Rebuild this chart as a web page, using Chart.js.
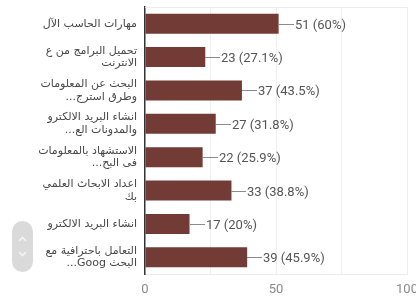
<!DOCTYPE html>
<html>
<head>
<meta charset="utf-8">
<script src="https://cdn.jsdelivr.net/npm/chart.js@4/dist/chart.umd.min.js"></script>
<style>
  html, body { margin: 0; padding: 0; background: #fff; overflow: hidden; }
  #wrap { position: relative; width: 416px; height: 300px; }
  #scroller {
    position: absolute; left: 12px; top: 221px; width: 21px; height: 51px;
    background: #dadada; border-radius: 11px;
  }
</style>
</head>
<body>
<div id="wrap">
  <canvas id="chart" width="416" height="300"></canvas>
  <div id="scroller">
    <svg width="21" height="51" viewBox="0 0 21 51">
      <polyline points="7,20 10.5,16.5 14,20" fill="none" stroke="#f4f4f4" stroke-width="1.6"/>
      <polyline points="7,31 10.5,34.5 14,31" fill="none" stroke="#f4f4f4" stroke-width="1.6"/>
    </svg>
  </div>
</div>
<script>
// البيانات
const categories = [
    'مهارات الحاسب الآل',
    ['تحميل البرامج من ع', 'الانترنت'],
    ['البحث عن المعلومات', '...وطرق استرج'],
    ['انشاء البريد الالكترو', '...والمدونات الع'],
    ['الاستشهاد بالمعلومات', '...فى البح'],
    ['اعداد الابحاث العلمي', 'بك'],
    'انشاء البريد الالكترو',
    ['التعامل باحترافية مع', '...Goog البحث']
];
const counts = [51, 23, 37, 27, 22, 33, 17, 39];
const percents = ['60%', '27.1%', '43.5%', '31.8%', '25.9%', '38.8%', '20%', '45.9%'];
const xTicks = [0, 50, 100];

// الخط العلوي لإطار الرسم
const topBorder = {
    id: 'topBorder',
    beforeDatasetsDraw(chart) {
        const { ctx, chartArea } = chart;
        ctx.save();
        ctx.strokeStyle = '#ececec';
        ctx.lineWidth = 1;
        ctx.beginPath();
        ctx.moveTo(chartArea.left, chartArea.top + 0.5);
        ctx.lineTo(chartArea.right, chartArea.top + 0.5);
        ctx.stroke();
        ctx.restore();
    }
};

// تسميات القيم مع خط صغير
const valueLabels = {
    id: 'valueLabels',
    afterDatasetsDraw(chart) {
        const ctx = chart.ctx;
        const meta = chart.getDatasetMeta(0);
        ctx.save();
        ctx.font = '13px Roboto';
        ctx.textAlign = 'left';
        ctx.textBaseline = 'middle';
        meta.data.forEach((bar, i) => {
            const x = Math.round(bar.x);
            const y = Math.round(bar.y) + 0.5;
            ctx.strokeStyle = '#8a8a8a';
            ctx.lineWidth = 1;
            ctx.beginPath();
            ctx.moveTo(x, y);
            ctx.lineTo(x + 15, y);
            ctx.stroke();
            ctx.fillStyle = '#555';
            ctx.fillText(counts[i] + ' (' + percents[i] + ')', x + 16, y + 1);
        });
        ctx.restore();
    }
};

const ctx = document.getElementById('chart').getContext('2d');
const chart = new Chart(ctx, {
    type: 'bar',
    data: {
        labels: categories,
        datasets: [{
            data: counts,
            backgroundColor: '#733b36',
            borderWidth: 0,
            categoryPercentage: 1,
            barPercentage: 0.6
        }]
    },
    options: {
        indexAxis: 'y',
        responsive: false,
        animation: false,
        layout: { padding: { top: 7, bottom: 2, left: 0, right: 0 } },
        plugins: {
            legend: { display: false },
            tooltip: { enabled: false }
        },
        scales: {
            x: {
                min: 0,
                max: 100,
                afterBuildTicks(scale) {
                    scale.ticks = [0, 25, 50, 75, 100].map(v => ({ value: v }));
                },
                afterFit(scale) {
                    scale.height = 24;
                    scale.paddingLeft = 0;
                    scale.paddingRight = 9;
                },
                ticks: {
                    padding: 8,
                    color: '#8a8a8a',
                    font: { family: 'Roboto', size: 13 },
                    callback: (v) => xTicks.includes(v) ? String(v) : ''
                },
                grid: {
                    drawTicks: false,
                    color: (c) => c.tick && c.tick.value === 0 ? 'rgba(0,0,0,0)' : '#efefef'
                },
                border: { color: '#ececec' }
            },
            y: {
                afterFit(scale) {
                    scale.width = 145;
                    scale.paddingTop = 0;
                    scale.paddingBottom = 0;
                },
                ticks: {
                    padding: 8,
                    color: '#484848',
                    font: { family: 'DejaVu Sans', size: 11, lineHeight: 1.15 }
                },
                grid: { display: false, drawTicks: false },
                border: { color: '#333', width: 1.5 }
            }
        }
    },
    plugins: [topBorder, valueLabels]
});
</script>
</body>
</html>
